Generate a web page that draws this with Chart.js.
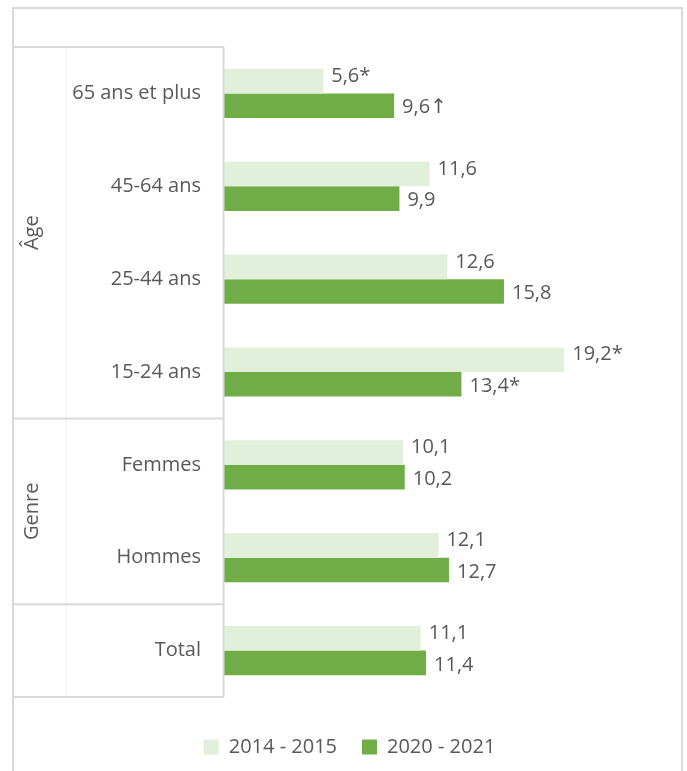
<!DOCTYPE html>
<html>
<head>
<meta charset="utf-8">
<script src="https://cdn.jsdelivr.net/npm/chart.js@4.4.1/dist/chart.umd.min.js"></script>
<style>
  html, body { margin: 0; padding: 0; background: #ffffff; }
  canvas { display: block; }
</style>
</head>
<body>
<canvas id="c" width="687" height="771"></canvas>
<script>
// ---- data ----
const categories = ["65 ans et plus", "45-64 ans", "25-44 ans", "15-24 ans", "Femmes", "Hommes", "Total"];
const seriesNames = ["2014 - 2015", "2020 - 2021"];
const values2014 = [5.6, 11.6, 12.6, 19.2, 10.1, 12.1, 11.1];
const values2020 = [9.6, 9.9, 15.8, 13.4, 10.2, 12.7, 11.4];
const marks2014 = ["*", "", "", "*", "", "", ""];
const marks2020 = ["↑", "", "", "*", "", "", ""];
const groupNames = ["Âge", "Genre", ""];
const groupStarts = [0, 4, 6];
const groupEnds = [3, 5, 6];

const TEXT = "#595959";
const LINE = "#D9D9D9";
Chart.defaults.font.family = "'Open Sans', 'DejaVu Sans', sans-serif";
Chart.defaults.font.size = 20;
Chart.defaults.color = TEXT;

function fmt(v, m) { return v.toFixed(1).replace(".", ",") + m; }

const decor = {
  id: "decor",
  beforeDraw(chart) {
    const ctx = chart.ctx;
    ctx.save();
    ctx.fillStyle = "#ffffff";
    ctx.fillRect(0, 0, chart.width, chart.height);
    ctx.strokeStyle = LINE;
    ctx.lineWidth = 2;
    ctx.strokeRect(13, 8, 669, 820);
    // faint inner column line
    const y = chart.scales.y;
    const half = (y.getPixelForValue(1) - y.getPixelForValue(0)) / 2;
    ctx.strokeStyle = "#F4F4F4";
    ctx.lineWidth = 1;
    ctx.beginPath();
    ctx.moveTo(66.5, y.getPixelForValue(0) - half);
    ctx.lineTo(66.5, y.getPixelForValue(categories.length - 1) + half);
    ctx.stroke();
    ctx.restore();
  },
  afterDraw(chart) {
    const ctx = chart.ctx;
    const y = chart.scales.y;
    const area = chart.chartArea;
    const half = (y.getPixelForValue(1) - y.getPixelForValue(0)) / 2;
    const left = 13;
    const right = Math.round(area.left) - 0.5;
    ctx.save();
    ctx.strokeStyle = LINE;
    ctx.lineWidth = 2;
    ctx.beginPath();
    const top = y.getPixelForValue(0) - half;
    const bottom = y.getPixelForValue(categories.length - 1) + half;
    ctx.moveTo(right, top);
    ctx.lineTo(right, bottom);
    ctx.moveTo(left, top); ctx.lineTo(right, top);
    groupEnds.forEach(e => {
      const py = y.getPixelForValue(e) + half;
      ctx.moveTo(left, py); ctx.lineTo(right, py);
    });
    ctx.stroke();
    // group labels
    ctx.fillStyle = TEXT;
    ctx.font = "20px 'Open Sans', 'DejaVu Sans', sans-serif";
    ctx.textAlign = "center";
    ctx.textBaseline = "middle";
    groupNames.forEach((g, i) => {
      if (!g) return;
      const cy = (y.getPixelForValue(groupStarts[i]) - half + y.getPixelForValue(groupEnds[i]) + half) / 2;
      ctx.save();
      ctx.translate(32, cy);
      ctx.rotate(-Math.PI / 2);
      ctx.fillText(g, 0, 0);
      ctx.restore();
    });
    // data labels
    const marks = [marks2014, marks2020];
    const dy = [-5, 2];
    ctx.textAlign = "left";
    chart.data.datasets.forEach((ds, di) => {
      const meta = chart.getDatasetMeta(di);
      meta.data.forEach((bar, i) => {
        ctx.fillText(fmt(ds.data[i], marks[di][i]), bar.x + 8, bar.y + dy[di]);
      });
    });
    ctx.restore();
  }
};

new Chart(document.getElementById("c"), {
  type: "bar",
  data: {
    labels: categories,
    datasets: [
      { label: seriesNames[0], data: values2014, backgroundColor: "#E2EFDA" },
      { label: seriesNames[1], data: values2020, backgroundColor: "#70AD47" }
    ]
  },
  options: {
    indexAxis: "y",
    responsive: false,
    animation: false,
    categoryPercentage: 0.53,
    barPercentage: 1.0,
    layout: { padding: { top: 47, right: 20, left: 32, bottom: 4 } },
    scales: {
      x: {
        display: true, min: 0, max: 25,
        afterFit(s) { s.height = 15; },
        grid: { display: false, drawTicks: false },
        border: { display: false },
        ticks: { display: false }
      },
      y: {
        afterFit(s) { s.width = 192; },
        grid: { display: false, drawTicks: false },
        border: { display: false },
        ticks: { padding: 23, color: TEXT, font: { size: 20 } }
      }
    },
    plugins: {
      legend: {
        position: "bottom",
        labels: { boxWidth: 15, boxHeight: 15, padding: 25, color: TEXT, font: { size: 20 } }
      },
      tooltip: { enabled: false }
    }
  },
  plugins: [decor]
});
</script>
</body>
</html>
